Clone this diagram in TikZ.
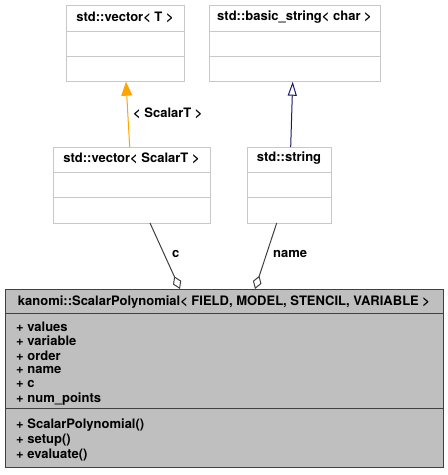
\documentclass[tikz,border=0pt]{standalone}
\usepackage{fontspec}
\setmainfont{TeX Gyre Heros}
\usetikzlibrary{arrows.meta}
\definecolor{boxgray}{HTML}{BFBFBF}
\definecolor{lightborder}{HTML}{C8C8C8}
\definecolor{darkborder}{HTML}{404040}
\definecolor{inhorange}{HTML}{FFA500}
\definecolor{inhblue}{HTML}{191970}
\begin{document}
\begin{tikzpicture}[x=1pt,y=-1pt,
  cls/.style={draw=lightborder, line width=1pt, fill=white, anchor=north west, inner sep=0pt, outer sep=0pt},
  maincls/.style={draw=darkborder, line width=1pt, fill=boxgray, anchor=north west, inner sep=0pt, outer sep=0pt},
  lbl/.style={font=\fontsize{13}{15}\selectfont\bfseries, inner sep=0pt},
  mem/.style={font=\fontsize{13}{15}\selectfont\bfseries, inner sep=0pt, anchor=west},
  tmpl/.style={draw=inhorange, line width=1pt, -{Triangle[length=14pt,width=11pt]}},
  inh/.style={draw=inhblue, line width=1pt, -{Triangle[open,length=14pt,width=9pt,fill=white]}},
  agg/.style={draw=darkborder, line width=1pt, -{Diamond[open,length=14pt,width=9pt,fill=white]}}
]
\useasboundingbox (0,0) rectangle (448,475);

% std::vector< T >
\node[cls, minimum width=118pt, minimum height=76.7pt] (vT) at (66,5) {};
\draw[lightborder, line width=1pt] ([yshift=-26.7pt]vT.north west) -- ([yshift=-26.7pt]vT.north east);
\draw[lightborder, line width=1pt] ([yshift=-51.7pt]vT.north west) -- ([yshift=-51.7pt]vT.north east);
\node[lbl] (vTt) at ([yshift=-12.5pt]vT.north) {std::vector< T >};

% std::basic_string< char >
\node[cls, minimum width=171pt, minimum height=76.7pt] (bs) at (209,5) {};
\draw[lightborder, line width=1pt] ([yshift=-26.7pt]bs.north west) -- ([yshift=-26.7pt]bs.north east);
\draw[lightborder, line width=1pt] ([yshift=-51.7pt]bs.north west) -- ([yshift=-51.7pt]bs.north east);
\node[lbl] (bst) at ([yshift=-12.5pt]bs.north) {std::basic\_string< char >};

% std::vector< ScalarT >
\node[cls, minimum width=157pt, minimum height=76pt] (vS) at (53,147) {};
\draw[lightborder, line width=1pt] ([yshift=-25.7pt]vS.north west) -- ([yshift=-25.7pt]vS.north east);
\draw[lightborder, line width=1pt] ([yshift=-50.7pt]vS.north west) -- ([yshift=-50.7pt]vS.north east);
\node[lbl] (vSt) at ([yshift=-11.5pt]vS.north) {std::vector< ScalarT >};

% std::string
\node[cls, minimum width=84pt, minimum height=76pt] (st) at (247,147) {};
\draw[lightborder, line width=1pt] ([yshift=-25.7pt]st.north west) -- ([yshift=-25.7pt]st.north east);
\draw[lightborder, line width=1pt] ([yshift=-50.7pt]st.north west) -- ([yshift=-50.7pt]st.north east);
\node[lbl] (stt) at ([yshift=-11.5pt]st.north) {std::string};

% main class
\node[maincls, minimum width=438pt, minimum height=178.7pt] (mc) at (5,289) {};
\draw[darkborder, line width=1pt] ([yshift=-24.3pt]mc.north west) -- ([yshift=-24.3pt]mc.north east);
\draw[darkborder, line width=1pt] ([yshift=-119.3pt]mc.north west) -- ([yshift=-119.3pt]mc.north east);
\node[lbl] (mct) at ([yshift=-13pt]mc.north) {kanomi::ScalarPolynomial< FIELD, MODEL, STENCIL, VARIABLE >};

\node[mem] (m1) at (16,326.7) {+ values};
\node[mem] (m2) at (16,341.1) {+ variable};
\node[mem] (m3) at (16,355.5) {+ order};
\node[mem] (m4) at (16,369.9) {+ name};
\node[mem] (m5) at (16,384.3) {+ c};
\node[mem] (m6) at (16,398.7) {+ num\_points};
\node[mem] (f1) at (16,425) {+ ScalarPolynomial()};
\node[mem] (f2) at (16,440) {+ setup()};
\node[mem] (f3) at (16,455) {+ evaluate()};

% connectors
\draw[tmpl] ([xshift=-1.8pt]vS.north) -- ([xshift=1pt]vT.south);
\node[lbl, anchor=west] (tl) at (133,113) {< ScalarT >};
\draw[inh] ([xshift=1.7pt]st.north) -- ([xshift=-1.8pt]bs.south);
\draw[agg] ([xshift=18.5pt]vS.south) -- ([xshift=-44pt]mc.north);
\node[lbl, anchor=west] (cl) at (172,254) {c};
\draw[agg] ([xshift=-12.3pt]st.south) -- ([xshift=31pt]mc.north);
\node[lbl, anchor=west] (nl) at (273,254) {name};
\end{tikzpicture}
\end{document}
